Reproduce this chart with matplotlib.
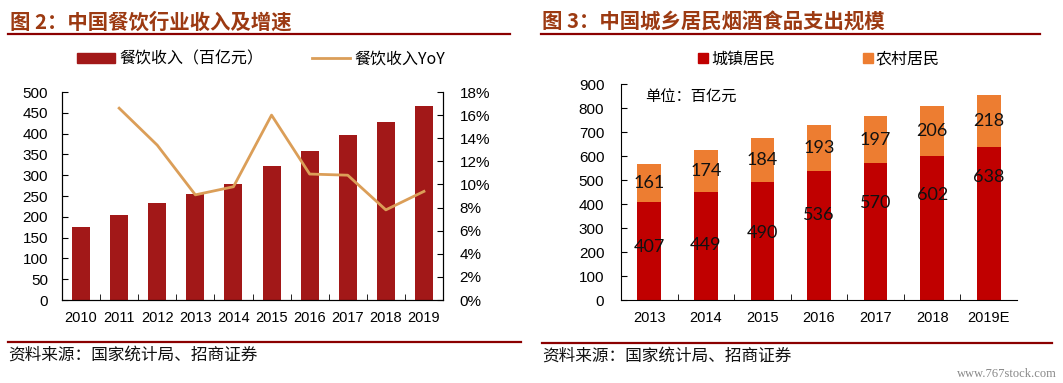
import matplotlib
matplotlib.use("Agg")
import matplotlib.pyplot as plt
from matplotlib.lines import Line2D
from matplotlib.patches import Patch
import numpy as np

plt.rcParams['font.family'] = ['Liberation Sans', 'Noto Sans CJK SC', 'DejaVu Sans']

# ---------------- data ----------------
years_left = ['2010', '2011', '2012', '2013', '2014', '2015', '2016', '2017', '2018', '2019']
revenue = [176, 205, 233, 254, 279, 323, 358, 396, 427, 467]
yoy = [None, 16.6, 13.4, 9.1, 9.8, 16.0, 10.9, 10.8, 7.8, 9.4]

years_right = ['2013', '2014', '2015', '2016', '2017', '2018', '2019E']
urban = [407, 449, 490, 536, 570, 602, 638]
rural = [161, 174, 184, 193, 197, 206, 218]
urban_label_at = [222, 229, 279, 354, 404, 437, 512]

W, H = 1063, 383
fig = plt.figure(figsize=(W / 100, H / 100), dpi=100)

def fx(px):
    return px / W

def fy(py):
    return 1 - py / H

TITLE_C = '#9C3A12'
RULE_C = '#8B0000'
CJK = ['Noto Sans CJK SC', 'DejaVu Sans']

# titles and rules
fig.text(fx(10), fy(22), '图 2：中国餐饮行业收入及增速', fontsize=14.7, fontweight='bold',
         color=TITLE_C, family=CJK, va='center', ha='left')
fig.text(fx(542), fy(22), '图 3：中国城乡居民烟酒食品支出规模', fontsize=14.7, fontweight='bold',
         color=TITLE_C, family=CJK, va='center', ha='left')
fig.add_artist(Line2D([fx(8), fx(510)], [fy(34), fy(34)], color=RULE_C, lw=1.6))
fig.add_artist(Line2D([fx(541), fx(1040)], [fy(34), fy(34)], color=RULE_C, lw=1.6))
fig.add_artist(Line2D([fx(8), fx(521)], [fy(342), fy(342)], color=RULE_C, lw=1.6))
fig.add_artist(Line2D([fx(542), fx(1052)], [fy(343), fy(343)], color=RULE_C, lw=1.6))
fig.text(fx(8), fy(355), '资料来源：国家统计局、招商证券', fontsize=12, family=CJK,
         va='center', ha='left', color='#111111')
fig.text(fx(542), fy(356), '资料来源：国家统计局、招商证券', fontsize=12, family=CJK,
         va='center', ha='left', color='#111111')
fig.text(fx(1057), fy(374), 'www.767stock.com', fontsize=9, family=['Liberation Serif'],
         va='center', ha='right', color='#888888')

TICK_FS = 10.5
YTICK_FS = 11

# ---------------- left chart ----------------
axL = fig.add_axes([fx(62), fy(300), fx(443) - fx(62), fy(92) - fy(300)])
xl = np.arange(len(years_left))
bars = axL.bar(xl, revenue, width=0.47, color='#A21818', zorder=2)
axL.set_xlim(-0.5, len(years_left) - 0.5)
axL.set_ylim(0, 500)
axL.set_yticks(np.arange(0, 501, 50))
axL.set_xticks(xl)
axL.set_xticklabels(years_left)
axL.set_xticks(np.arange(0.5, len(years_left) - 0.5, 1), minor=True)
axL.tick_params(axis='x', which='major', length=0, labelsize=TICK_FS, pad=8)
axL.tick_params(axis='x', which='minor', length=4, direction='in')
axL.tick_params(axis='y', length=4, direction='in', labelsize=YTICK_FS, pad=10)
axL.spines['top'].set_visible(False)

axR = axL.twinx()
yx = [i for i, v in enumerate(yoy) if v is not None]
yv = [v for v in yoy if v is not None]
line, = axR.plot(yx, yv, color='#DB9E58', lw=2.0, zorder=3)
axR.set_ylim(0, 18)
axR.set_yticks(np.arange(0, 19, 2))
axR.set_yticklabels([f'{t}%' for t in range(0, 19, 2)])
axR.tick_params(axis='y', length=4, direction='in', labelsize=YTICK_FS, pad=12)
axR.spines['top'].set_visible(False)

fig.legend([Patch(color='#A21818'), Line2D([0], [0], color='#DB9E58', lw=2.0)],
           ['餐饮收入（百亿元）', '餐饮收入YoY'], loc='center',
           bbox_to_anchor=(fx(261), fy(59)), ncol=2, frameon=False,
           prop={'family': CJK, 'size': 11.5}, handlelength=2.4, handleheight=0.65,
           handletextpad=0.3, columnspacing=3.0)

# ---------------- right chart ----------------
ax2 = fig.add_axes([fx(621), fy(300), fx(1017) - fx(621), fy(84) - fy(300)])
xr = np.arange(len(years_right))
ax2.bar(xr, urban, width=0.42, color='#C00000', zorder=2)
ax2.bar(xr, rural, width=0.42, bottom=urban, color='#ED7D31', zorder=2)
ax2.set_xlim(-0.5, len(years_right) - 0.5)
ax2.set_ylim(0, 900)
ax2.set_yticks(np.arange(0, 901, 100))
ax2.set_xticks(xr)
ax2.set_xticklabels(years_right)
ax2.set_xticks(np.arange(0.5, len(years_right) - 0.5, 1), minor=True)
ax2.tick_params(axis='x', which='major', length=0, labelsize=TICK_FS, pad=8)
ax2.tick_params(axis='x', which='minor', length=4, direction='in')
ax2.tick_params(axis='y', length=4, direction='in', labelsize=YTICK_FS, pad=12)
ax2.spines['top'].set_visible(False)
ax2.spines['right'].set_visible(False)

LBL = ['Lato', 'DejaVu Sans']
for i in range(len(years_right)):
    ax2.text(xr[i], urban_label_at[i], str(urban[i]), ha='center', va='center',
             fontsize=13, family=LBL, color='#111111', zorder=4)
    ax2.text(xr[i], urban[i] + rural[i] / 2, str(rural[i]), ha='center', va='center',
             fontsize=13, family=LBL, color='#111111', zorder=4)

ax2.text(0.06, 0.94, '单位：百亿元', transform=ax2.transAxes, ha='left', va='center',
         fontsize=11, family=CJK)

fig.legend([Patch(color='#C00000'), Patch(color='#ED7D31')], ['城镇居民', '农村居民'],
           loc='center', bbox_to_anchor=(fx(819), fy(59)), ncol=2, frameon=False,
           prop={'family': CJK, 'size': 11.5}, handlelength=0.6, handleheight=0.6,
           handletextpad=0.2, columnspacing=5.5)

fig.savefig('out.png', dpi=100)
